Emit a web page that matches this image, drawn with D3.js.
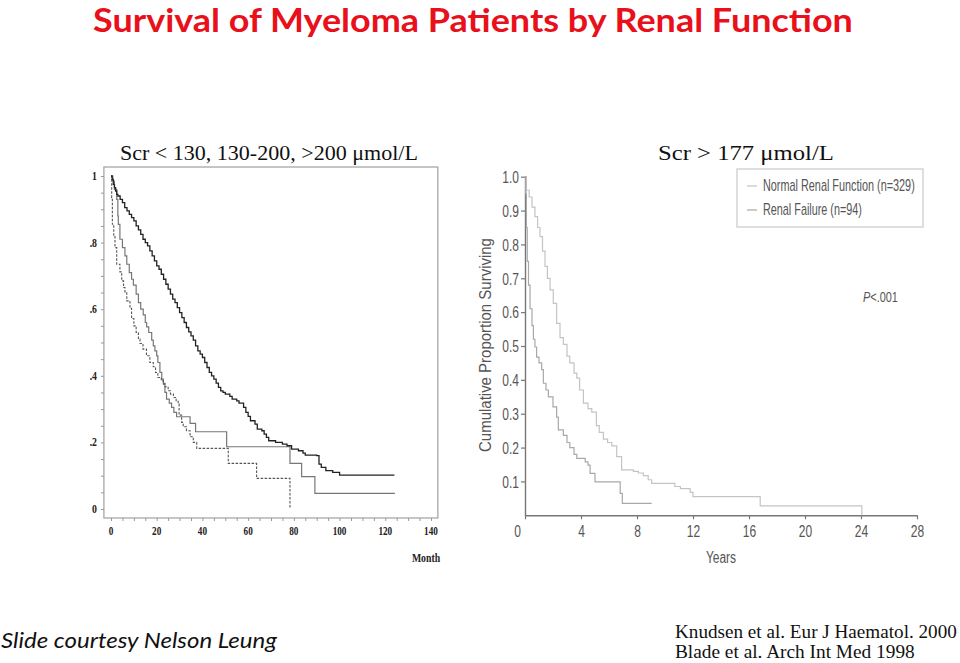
<!DOCTYPE html>
<html><head><meta charset="utf-8">
<script src="https://cdn.jsdelivr.net/npm/d3@7"></script>
<style>body{margin:0;background:#fff}</style>
</head><body><svg id="c" width="960" height="663"></svg>
<script>
// ---------------- DATA ----------------
const titleText = "Survival of Myeloma Patients by Renal Function";
const leftSubtitle = "Scr < 130, 130-200, >200 \u03bcmol/L";
const rightSubtitle = "Scr > 177 \u03bcmol/L";
const leftXLabel = "Month";
const rightXLabel = "Years";
const rightYLabel = "Cumulative Proportion Surviving";
const pValueText = ["P", "<.001"];
const creditText = "Slide courtesy Nelson Leung";
const refLines = ["Knudsen et al. Eur J Haematol. 2000", "Blade et al. Arch Int Med 1998"];

const leftXTicks = [0, 20, 40, 60, 80, 100, 120, 140];
const leftYTicks = [0, 0.2, 0.4, 0.6, 0.8, 1];
const leftYTickLabels = ["0", ".2", ".4", ".6", ".8", "1"];
const rightXTicks = [0, 4, 8, 12, 16, 20, 24, 28];
const rightYTicks = [0.1, 0.2, 0.3, 0.4, 0.5, 0.6, 0.7, 0.8, 0.9, 1.0];
const rightLegend = ["Normal Renal Function (n=329)", "Renal Failure (n=94)"];

// Left panel: [month, survival]
const scrLow = [[0,1],[0.5,0.99],[1,0.975],[1.5,0.965],[2,0.955],[2.5,0.945],[3,0.94],[4,0.93],[5,0.92],[6,0.905],[7,0.895],[8,0.885],[9,0.875],[10,0.865],[11,0.85],[12,0.838],[13,0.825],[14,0.81],[15,0.8],[16,0.79],[17,0.775],[18,0.76],[19,0.745],[20,0.73],[21,0.72],[22,0.705],[23,0.69],[24,0.675],[25,0.66],[26,0.645],[27,0.63],[28,0.62],[29,0.605],[30,0.59],[31,0.575],[32,0.56],[33,0.545],[34,0.532],[35,0.52],[36,0.507],[37,0.49],[38,0.475],[39,0.465],[40,0.455],[41,0.44],[42,0.425],[43,0.41],[44,0.4],[45,0.39],[46,0.378],[47,0.365],[48,0.355],[49,0.35],[50,0.345],[52,0.338],[53,0.33],[55,0.325],[56,0.318],[58,0.305],[59,0.29],[60,0.278],[61,0.265],[63,0.255],[64,0.24],[66,0.235],[67,0.225],[68,0.215],[69,0.205],[72,0.2],[75,0.195],[77,0.19],[79,0.18],[82,0.175],[84,0.168],[85,0.162],[90,0.16],[91,0.135],[92,0.125],[94,0.115],[97,0.11],[100,0.102],[124,0.102]];
const scrMid = [[0,1],[0.8,0.985],[1.5,0.96],[2.5,0.93],[3,0.88],[3.2,0.855],[3.9,0.81],[5,0.785],[6.1,0.76],[6.9,0.735],[8,0.71],[9,0.69],[9.8,0.672],[11,0.645],[12,0.62],[13,0.6],[14.1,0.583],[15,0.56],[15.6,0.547],[16.5,0.53],[17.8,0.507],[18.5,0.49],[19.2,0.475],[20,0.46],[20.5,0.44],[21.4,0.41],[22.2,0.39],[22.9,0.377],[23.6,0.35],[24.3,0.33],[25.5,0.318],[26.5,0.305],[27.5,0.29],[28.7,0.277],[34.6,0.257],[37,0.232],[50.6,0.187],[78.3,0.137],[83.4,0.097],[89.2,0.047],[124.2,0.047]];
const scrHigh = [[0,1],[0.3,0.935],[0.6,0.855],[1.2,0.82],[1.75,0.785],[2.5,0.735],[3.9,0.712],[4.7,0.685],[5.5,0.665],[6.1,0.652],[6.9,0.625],[8.3,0.603],[9,0.572],[10,0.55],[11,0.53],[12,0.51],[12.7,0.497],[14,0.48],[15.5,0.46],[17,0.44],[18.5,0.427],[19.5,0.41],[20.5,0.395],[22,0.385],[22.9,0.375],[23.6,0.367],[25,0.355],[26,0.345],[27.3,0.335],[28.5,0.325],[29.4,0.315],[29.8,0.282],[30.9,0.26],[31.6,0.247],[33,0.235],[34.6,0.217],[36,0.2],[37.5,0.182],[51.3,0.137],[63.7,0.092],[78.3,0.0]];

// Right panel: [year, survival]
const normalRenal = [[0,1],[0.1,0.96],[0.3,0.94],[0.5,0.91],[0.71,0.882],[0.9,0.85],[1.07,0.823],[1.25,0.78],[1.43,0.735],[1.6,0.7],[1.79,0.666],[2.02,0.626],[2.26,0.567],[2.5,0.525],[2.74,0.505],[3.0,0.47],[3.2,0.45],[3.5,0.42],[3.7,0.405],[3.9,0.37],[4.17,0.331],[4.5,0.315],[4.77,0.305],[5.1,0.265],[5.3,0.245],[5.6,0.225],[5.9,0.215],[6.2,0.205],[6.55,0.173],[6.9,0.134],[7.74,0.13],[8.1,0.125],[8.45,0.117],[8.8,0.105],[9.05,0.094],[10.7,0.085],[11.1,0.079],[11.8,0.068],[12.0,0.055],[16.8,0.028],[24.06,0]];
const renalFailure = [[0,1],[0.05,0.95],[0.1,0.85],[0.16,0.75],[0.25,0.68],[0.36,0.61],[0.5,0.56],[0.6,0.52],[0.71,0.497],[0.83,0.467],[1.0,0.45],[1.19,0.43],[1.31,0.39],[1.5,0.37],[1.67,0.35],[2.0,0.32],[2.26,0.29],[2.38,0.252],[2.74,0.236],[3.0,0.215],[3.2,0.2],[3.5,0.18],[3.7,0.168],[4.3,0.158],[4.5,0.148],[4.65,0.124],[5.0,0.099],[6.8,0.065],[6.95,0.035],[9.05,0.035]];

// ---------------- DRAW ----------------
const svg = d3.select("#c");
const serif = "'Liberation Serif','Times New Roman',serif";
const sans = "'Liberation Sans',Arial,sans-serif";
const calibriLike = "Lato,'Open Sans',sans-serif";

// horizontally condense text (no narrow fonts installed)
function condense(sel, k) {
  sel.each(function () {
    const t = d3.select(this);
    const x = +t.attr("x") || 0;
    const dx = +t.attr("dx") || 0;
    t.attr("x", x / k).attr("dx", dx / k).attr("transform", `scale(${k},1)`);
  });
}
// scale a text horizontally so that it spans width w
function fitWidth(sel, w) {
  sel.each(function () {
    const n = this.getComputedTextLength();
    condense(d3.select(this), w / n);
  });
}

const title = svg.append("text").attr("x", 473).attr("y", 32.5).attr("text-anchor", "middle")
  .attr("font-family", calibriLike).attr("font-weight", "bold")
  .attr("font-size", 32).attr("fill", "#e8101a").text(titleText);
fitWidth(title, 760);

const st1 = svg.append("text").attr("x", 120).attr("y", 160).attr("font-family", serif)
  .attr("font-size", 20).attr("fill", "#111").text(leftSubtitle);
fitWidth(st1, 298);
const st2 = svg.append("text").attr("x", 658).attr("y", 160).attr("font-family", serif)
  .attr("font-size", 20).attr("fill", "#111").text(rightSubtitle);
fitWidth(st2, 176);

// ---- Left panel ----
const xL = d3.scaleLinear().domain([0, 140]).range([111, 431]);
const yL = d3.scaleLinear().domain([0, 1]).range([509, 176]);
const gL = svg.append("g");
gL.append("rect").attr("x", xL(-3.1)).attr("y", yL(1.027))
  .attr("width", xL(143) - xL(-3.1)).attr("height", yL(-0.027) - yL(1.027))
  .attr("fill", "none").attr("stroke", "#a0a0a0").attr("stroke-width", 1.2);

const yMinor = gL.append("g").attr("transform", `translate(${xL(-3.1)},0)`)
  .call(d3.axisLeft(yL).tickValues(d3.range(0, 1.001, 0.05)).tickSize(3).tickFormat(""));
yMinor.select(".domain").remove();
yMinor.selectAll("line").attr("stroke", "#999");
const xMinor = gL.append("g").attr("transform", `translate(0,${yL(-0.027)})`)
  .call(d3.axisBottom(xL).tickValues(d3.range(0, 141, 5)).tickSize(3).tickFormat(""));
xMinor.select(".domain").remove();
xMinor.selectAll("line").attr("stroke", "#999");

const leftTextStyle = s => s.attr("font-family", serif).attr("font-weight", "bold")
  .attr("font-size", 11.5).attr("fill", "#222");
const yl = gL.selectAll(".ylab").data(leftYTicks).join("text")
  .attr("x", 97).attr("y", d => yL(d) + 4).attr("text-anchor", "end")
  .call(leftTextStyle).text((d, i) => leftYTickLabels[i]);
const xl = gL.selectAll(".xlab").data(leftXTicks).join("text")
  .attr("x", d => xL(d)).attr("y", 535).attr("text-anchor", "middle")
  .call(leftTextStyle).text(d => d);
const ml = gL.append("text").attr("x", 426).attr("y", 562).attr("text-anchor", "middle")
  .call(leftTextStyle).text(leftXLabel);
condense(yl, 0.85); condense(xl, 0.8); condense(ml, 0.85);

const lineL = d3.line().x(d => xL(d[0])).y(d => yL(d[1])).curve(d3.curveStepAfter);
gL.append("path").datum(scrMid).attr("d", lineL).attr("fill", "none")
  .attr("stroke", "#777").attr("stroke-width", 1.2);
gL.append("path").datum(scrHigh).attr("d", lineL).attr("fill", "none")
  .attr("stroke", "#555").attr("stroke-width", 1.1).attr("stroke-dasharray", "2.5,1.5");
gL.append("path").datum(scrLow).attr("d", lineL).attr("fill", "none")
  .attr("stroke", "#222").attr("stroke-width", 1.3);

// ---- Right panel ----
const xR = d3.scaleLinear().domain([0, 28]).range([525, 917]);
const yR = d3.scaleLinear().domain([0, 1]).range([515.3, 176.7]);
const gR = svg.append("g");

const yAx = gR.append("g").attr("transform", `translate(${xR(0)},0)`)
  .call(d3.axisLeft(yR).tickValues(rightYTicks).tickSize(4).tickSizeOuter(0).tickFormat(d3.format(".1f")));
const xAx = gR.append("g").attr("transform", `translate(0,${yR(0)})`)
  .call(d3.axisBottom(xR).tickValues(rightXTicks).tickSize(4).tickSizeOuter(0).tickFormat(d3.format("d")));
[yAx, xAx].forEach(a => {
  a.select(".domain").attr("stroke", "#777").attr("stroke-width", 1.4);
  a.selectAll(".tick line").attr("stroke", "#777").attr("stroke-width", 1.2);
  a.selectAll(".tick text").attr("font-family", sans).attr("font-size", 16).attr("fill", "#555");
});
yAx.selectAll(".tick text").attr("x", -6).attr("dy", "0.36em");
xAx.selectAll(".tick text").attr("y", 10);
xAx.selectAll(".tick").filter(d => d === 0).select("text").attr("dx", -8);
condense(yAx.selectAll(".tick text"), 0.75);
condense(xAx.selectAll(".tick text"), 0.75);

const yr = gR.append("text").attr("x", 721).attr("y", 563).attr("text-anchor", "middle")
  .attr("font-family", sans).attr("font-size", 16).attr("fill", "#555").text(rightXLabel);
condense(yr, 0.75);
const ylabG = gR.append("g").attr("transform", `translate(491,345) rotate(-90)`);
const ylab = ylabG.append("text").attr("x", 0).attr("y", 0).attr("text-anchor", "middle")
  .attr("font-family", sans).attr("font-size", 17).attr("fill", "#555").text(rightYLabel);
fitWidth(ylab, 214);

const lineR = d3.line().x(d => xR(d[0])).y(d => yR(d[1])).curve(d3.curveStepAfter);
const rightColors = ["#c4c4c4", "#a8a8a8"];
gR.append("path").datum(normalRenal).attr("d", lineR).attr("fill", "none")
  .attr("stroke", rightColors[0]).attr("stroke-width", 1.2);
gR.append("path").datum(renalFailure).attr("d", lineR).attr("fill", "none")
  .attr("stroke", rightColors[1]).attr("stroke-width", 1.2);

// legend
const lg = gR.append("g");
lg.append("rect").attr("x", 737).attr("y", 169).attr("width", 186).attr("height", 58)
  .attr("fill", "#fff").attr("stroke", "#d4d4d4").attr("stroke-width", 1.5);
const legendWidths = [152, 99];
rightLegend.forEach((t, i) => {
  lg.append("line").attr("x1", 747).attr("x2", 757).attr("y1", 186 + i * 24).attr("y2", 186 + i * 24)
    .attr("stroke", rightColors[i]).attr("stroke-width", 1.2);
  const lt = lg.append("text").attr("x", 763).attr("y", 191.5 + i * 24)
    .attr("font-family", sans).attr("font-size", 16).attr("fill", "#555").text(t);
  fitWidth(lt, legendWidths[i]);
});
const pt = gR.append("text").attr("x", 863).attr("y", 302)
  .attr("font-family", sans).attr("font-size", 15).attr("fill", "#555");
pt.append("tspan").attr("font-style", "italic").text(pValueText[0]);
pt.append("tspan").text(pValueText[1]);
fitWidth(pt, 35);

// footer
const cr = svg.append("text").attr("x", 1).attr("y", 648)
  .attr("font-family", calibriLike).attr("font-style", "italic")
  .attr("font-size", 22).attr("fill", "#111").text(creditText);
fitWidth(cr, 276);
refLines.forEach((t, i) => {
  const rt = svg.append("text").attr("x", 675).attr("y", 638 + i * 20.5)
    .attr("font-family", serif).attr("font-size", 18).attr("fill", "#111").text(t);
  fitWidth(rt, i === 0 ? 282 : 240);
});
</script></body></html>
